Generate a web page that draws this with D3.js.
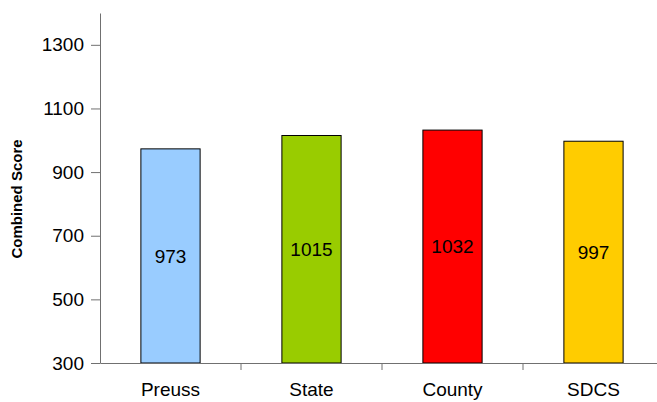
<!DOCTYPE html>
<html>
<head>
<meta charset="utf-8">
<script src="https://cdn.jsdelivr.net/npm/d3@7"></script>
<style>
  body { margin:0; background:#fff; }
  svg { display:block; font-family:"Liberation Sans", Arial, sans-serif; }
</style>
</head>
<body>
<div id="plot"></div>
<script>
// chart data
var categories = ['Preuss', 'State', 'County', 'SDCS'];
var scores = [973, 1015, 1032, 997];
var barColors = ['#99ccff', '#99cc00', '#ff0000', '#ffcc00'];
var yTicks = [300, 500, 700, 900, 1100, 1300];

var W = 657, H = 402;
var svg = d3.select('#plot').append('svg')
    .attr('width', W)
    .attr('height', H);

var y = d3.scaleLinear().domain([300, 1400]).range([363, 13]);
var x = d3.scaleBand().domain(categories).range([100, 664]).padding(0);
var bw = x.bandwidth();

// bars
svg.selectAll('rect.bar')
    .data(categories)
    .enter().append('rect')
    .attr('class', 'bar')
    .attr('x', function(d){ return x(d) + bw*0.29; })
    .attr('y', function(d,i){ return y(scores[i]); })
    .attr('width', bw*0.42)
    .attr('height', function(d,i){ return y(300) - y(scores[i]); })
    .style('fill', function(d,i){ return barColors[i]; })
    .style('stroke', '#000')
    .style('stroke-width', 1);

// value labels inside bars
svg.selectAll('text.val')
    .data(categories)
    .enter().append('text')
    .attr('class', 'val')
    .attr('x', function(d){ return x(d) + bw/2; })
    .attr('y', function(d,i){ return (y(scores[i]) + y(300))/2; })
    .attr('dy', '0.35em')
    .attr('text-anchor', 'middle')
    .style('font-size', '19px')
    .style('fill', '#000')
    .text(function(d,i){ return scores[i]; });

// y axis
var yAxis = svg.append('g')
    .attr('transform', 'translate(100,0)')
    .call(d3.axisLeft(y).tickValues(yTicks).tickFormat(d3.format('d'))
        .tickSize(9).tickPadding(7).tickSizeOuter(0));
yAxis.select('.domain').attr('stroke', '#707070');
yAxis.selectAll('.tick line').attr('stroke', '#707070');
yAxis.selectAll('.tick text').style('font-size', '19px').style('fill', '#000');

// x axis
var xAxis = svg.append('g')
    .attr('transform', 'translate(0,363)')
    .call(d3.axisBottom(x).tickSize(0).tickPadding(0).tickSizeOuter(0));
xAxis.select('.domain').attr('stroke', '#707070');
xAxis.selectAll('.tick text')
    .attr('y', 33)
    .attr('dy', 0)
    .style('font-size', '19px')
    .style('fill', '#000');

// category boundary ticks
svg.selectAll('line.ctick')
    .data(categories.slice(1))
    .enter().append('line')
    .attr('class', 'ctick')
    .attr('x1', function(d){ return x(d); })
    .attr('x2', function(d){ return x(d); })
    .attr('y1', 363)
    .attr('y2', 370)
    .attr('stroke', '#707070');

// axis title
svg.append('text')
    .attr('transform', 'translate(22,199) rotate(-90)')
    .attr('text-anchor', 'middle')
    .style('font-size', '15px')
    .style('font-weight', 'bold')
    .text('Combined Score');
</script>
</body>
</html>
